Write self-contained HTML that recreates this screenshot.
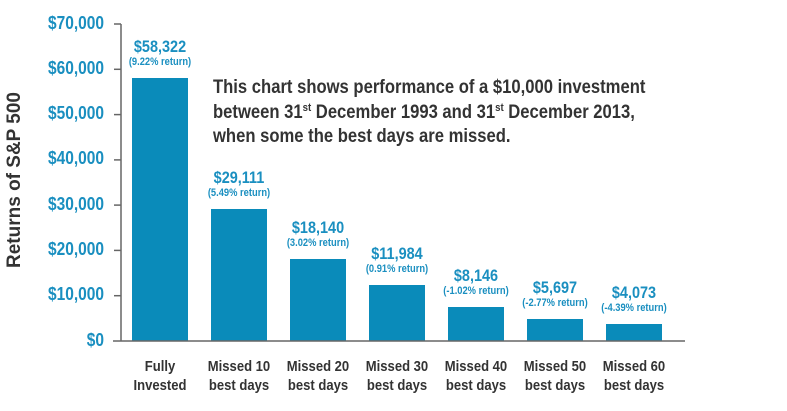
<!DOCTYPE html>
<html><head><meta charset="utf-8"><style>
html,body{margin:0;padding:0;background:#fff;}
body{width:787px;height:411px;overflow:hidden;position:relative;font-family:"Liberation Sans Narrow","Liberation Sans",sans-serif;font-weight:bold;}
.t{position:absolute;white-space:nowrap;}
.yl{color:#1a8fc0;font-size:18px;text-align:right;width:100px;left:4px;transform:scaleX(0.86);transform-origin:right center;}
.xl{color:#333;font-size:15px;text-align:center;width:90px;line-height:19px;transform:scaleX(0.87);}
.v{color:#1a8fc0;text-align:center;width:100px;transform:scaleX(0.85);}
.v b{display:block;font-size:17px;line-height:19px;}
.v i{display:block;font-style:normal;font-size:11px;line-height:13px;}
sup{font-size:11px;line-height:0;vertical-align:0;position:relative;top:-7px;}
</style></head><body>
<svg width="787" height="411" style="position:absolute;left:0;top:0">
<g fill="#0a8bba">
<rect x="132" y="78" width="56" height="263"/>
<rect x="211" y="209" width="56" height="132"/>
<rect x="290" y="259" width="56" height="82"/>
<rect x="369" y="285" width="56" height="56"/>
<rect x="448" y="307" width="56" height="34"/>
<rect x="527" y="319" width="56" height="22"/>
<rect x="606" y="324" width="56" height="17"/>
</g>
<g stroke="#666" stroke-width="1.5" fill="none">
<line x1="121" y1="24" x2="121" y2="341"/>
<line x1="113" y1="341" x2="685" y2="341"/>
<line x1="114" y1="24" x2="121" y2="24"/>
<line x1="114" y1="69.3" x2="121" y2="69.3"/>
<line x1="114" y1="114.6" x2="121" y2="114.6"/>
<line x1="114" y1="159.9" x2="121" y2="159.9"/>
<line x1="114" y1="205.1" x2="121" y2="205.1"/>
<line x1="114" y1="250.4" x2="121" y2="250.4"/>
<line x1="114" y1="295.7" x2="121" y2="295.7"/>
</g>
</svg>
<div class="t yl" style="top:13px">$70,000</div>
<div class="t yl" style="top:58px">$60,000</div>
<div class="t yl" style="top:103px">$50,000</div>
<div class="t yl" style="top:148px">$40,000</div>
<div class="t yl" style="top:194px">$30,000</div>
<div class="t yl" style="top:239px">$20,000</div>
<div class="t yl" style="top:284px">$10,000</div>
<div class="t yl" style="top:330px">$0</div>
<div class="t" style="left:-70px;top:172px;width:170px;text-align:center;transform:rotate(-90deg);color:#333;font-size:19px">Returns of S&amp;P 500</div>
<div class="t xl" style="left:115px;top:357px">Fully<br>Invested</div>
<div class="t xl" style="left:194px;top:357px">Missed 10<br>best days</div>
<div class="t xl" style="left:273px;top:357px">Missed 20<br>best days</div>
<div class="t xl" style="left:352px;top:357px">Missed 30<br>best days</div>
<div class="t xl" style="left:431px;top:357px">Missed 40<br>best days</div>
<div class="t xl" style="left:510px;top:357px">Missed 50<br>best days</div>
<div class="t xl" style="left:589px;top:357px">Missed 60<br>best days</div>
<div class="t v" style="left:110px;top:37px"><b>$58,322</b><i>(9.22% return)</i></div>
<div class="t v" style="left:189px;top:168px"><b>$29,111</b><i>(5.49% return)</i></div>
<div class="t v" style="left:268px;top:218px"><b>$18,140</b><i>(3.02% return)</i></div>
<div class="t v" style="left:347px;top:244px"><b>$11,984</b><i>(0.91% return)</i></div>
<div class="t v" style="left:426px;top:266px"><b>$8,146</b><i>(-1.02% return)</i></div>
<div class="t v" style="left:505px;top:278px"><b>$5,697</b><i>(-2.77% return)</i></div>
<div class="t v" style="left:584px;top:283px"><b>$4,073</b><i>(-4.39% return)</i></div>
<div class="t" style="left:213px;top:76px;color:#333;font-size:19px;line-height:24.5px;transform:scaleX(0.875);transform-origin:left top">This chart shows performance of a $10,000 investment<br>between 31<sup>st</sup> December 1993 and 31<sup>st</sup> December 2013,<br>when some the best days are missed.</div>
</body></html>
